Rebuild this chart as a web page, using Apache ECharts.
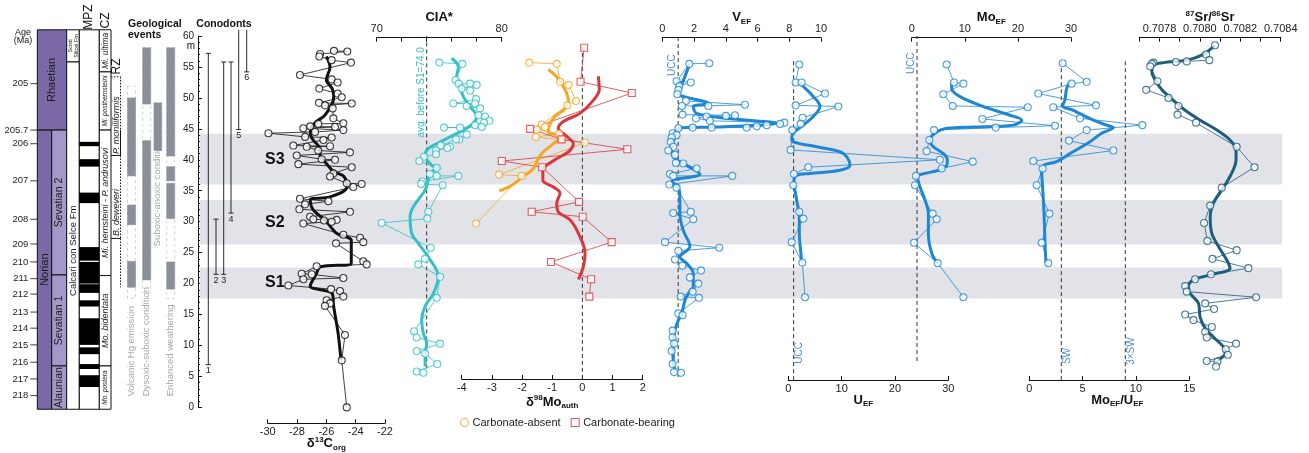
<!DOCTYPE html>
<html>
<head>
<meta charset="utf-8">
<title>Norian–Rhaetian proxy profiles</title>
<script src="https://cdn.jsdelivr.net/npm/echarts@6/dist/echarts.min.js"></script>
<style>
  html, body { margin: 0; padding: 0; background: #fff; }
  #chart { width: 1309px; height: 453px; }
</style>
</head>
<body>
<div id="chart"></div>
<script>
// ---------------- stratigraphic framework (heights in m) ----------------
const ageTicks = [[205, 52.3], [205.7, 44.8], [206, 42.6], [207, 36.6], [208, 30.4], [209, 26.4], [210, 23.5],
  [211, 20.8], [212, 18.3], [213, 15.4], [214, 12.8], [215, 10.1], [216, 7.3], [217, 4.6], [218, 1.9]];
const stages = [['Rhaetian', 61.0, 44.8], ['Norian', 44.8, -0.3]];
const substages = [['Sevatian 2', 44.8, 21.4], ['Sevatian 1', 21.4, 6.7], ['Alaunian', 6.7, -0.3]];
const formations = [['Scisti\nSilicei Fm', 61.0, 55.8], ['Calcari con Selce Fm', 55.8, -0.3]];
const polarityReversed = [[42.9, 42.2], [40.1, 38.9], [34.7, 33.0], [25.9, 23.7], [23.5, 20.0], [19.9, 18.5],
  [17.3, 16.3], [14.4, 10.1], [9.7, 8.6], [7.0, 6.2], [5.2, 3.3]];
const conodontZones = [['Mi. ultima', 61.0, 54.2], ['Mi. posthernsteini', 54.2, 44.8],
  ['Mi. hernsteini - P. andrusovi', 44.8, 21.3], ['Mo. bidentata', 21.3, 6.7], ['Mo. postera', 6.7, -0.3]];
const radiolarianZones = [['P. moniliformis', 53.4, 40.7], ['B. deweveri', 40.7, 27.3]];
const radiolarianExtension = 19.4;

const eventNames = ['Volcanic Hg emission', 'Dysoxic-suboxic condition', 'Suboxic-anoxic condition', 'Enhanced weathering'];
const eventSpans = [[51.9, 17.6], [58.1, 18.6], [49.2, 41.5], [58.1, 17.6]];
const hgEmission = [[50.0, 37.4], [32.7, 29.5], [23.6, 19.4]];
const dysoxicSuboxic = [[58.1, 49.0], [43.1, 20.6]];
const suboxicAnoxic = [[49.2, 41.5]];
const enhancedWeathering = [[58.1, 40.6], [38.9, 36.6], [36.2, 30.5], [23.5, 19.1]];

const conodontRanges = [[57.2, 6.9], [30.4, 21.5], [55.8, 21.5], [55.8, 31.4], [61.0, 44.9], [61.0, 54.2]];
const shiftNames = ['S1', 'S2', 'S3'];
const shiftIntervals = [[17.6, 22.6], [26.3, 33.5], [36.0, 44.2]];

// ---------------- geochemical profiles: [height m, value] ----------------
const d13cOrg = [[57.6,-25.48],[57.5,-24.57],[57.1,-26.43],[56.7,-26.48],[56.1,-25.64],[55.7,-24.32],[53.7,-27.8],
  [53.0,-25.64],[52.5,-25.23],[51.5,-26.48],[50.7,-25.23],[50.1,-24.95],[49.2,-26.5],[49.1,-24.27],[48.8,-26.09],
  [48.3,-25.57],[46.7,-25.52],[45.9,-24.84],[45.8,-26.55],[45.4,-27.1],[45.3,-25.41],[45.1,-27.57],[44.8,-24.84],
  [44.5,-26.77],[44.3,-29.95],[43.7,-27.45],[43.6,-25.64],[43.2,-26.2],[42.3,-28.25],[42.2,-25.75],[42.1,-27.34],
  [41.5,-26.55],[41.2,-24.39],[40.7,-28.02],[40.1,-26.32],[40.0,-25.41],[39.3,-27.91],[38.8,-24.27],[37.8,-25.52],
  [37.3,-25.75],[36.2,-24.61],[36.1,-23.59],[35.6,-24.16],[33.7,-27.8],[33.3,-25.86],[32.8,-27.45],[32.0,-27.84],
  [31.6,-24.39],[30.8,-27.11],[30.4,-26.89],[30.3,-25.3],[30.2,-26.16],[30.0,-25.64],[29.7,-27.57],[27.9,-24.84],
  [27.4,-23.7],[26.7,-23.48],[26.5,-25.34],[23.6,-23.48],[23.1,-23.25],[22.8,-26.66],[21.6,-27.68],[21.5,-27.0],
  [20.9,-24.84],[20.7,-27.57],[19.7,-28.59],[19.1,-25.68],[18.8,-25.07],[17.9,-24.84],[17.3,-25.98],[16.8,-25.75],
  [16.4,-26.09],[11.7,-24.73],[7.6,-24.95],[0.0,-24.61]];
const d13cTrend = [[7.6,-25.0],[12,-25.2],[16.3,-25.5],[18.4,-25.6],[19.6,-27.1],[21.5,-26.7],[22.7,-26.4],[23.3,-24.3],
  [27.0,-24.3],[27.6,-24.7],[28.1,-25.3],[30.3,-26.1],[31.9,-26.9],[33.5,-27.1],[34.0,-25.75],[35.6,-24.6],[37.3,-24.8],
  [38.1,-25.5],[39.4,-26.0],[40.5,-26.4],[42.1,-26.5],[43.2,-26.9],[44.3,-27.1],[45.9,-26.8],[47.2,-26.1],[49.1,-25.6],
  [50.2,-25.5],[51.5,-25.6],[52.9,-26.0],[55.0,-25.75],[56.7,-26.0]];

const cia = [[55.7,75.01],[55.5,76.85],[52.9,76.32],[52.3,76.56],[52.3,77.47],[52.1,78.0],[51.5,76.8],[51.2,77.47],
  [49.8,77.95],[49.1,76.13],[49.1,77.87],[48.7,77.2],[48.3,78.27],[47.2,78.13],[47.0,78.67],[46.3,79.01],[46.0,78.59],
  [45.6,77.87],[45.3,78.4],[45.2,75.39],[45.2,76.67],[44.1,77.2],[43.3,76.61],[43.3,76.35],[42.3,75.12],[42.1,75.87],
  [41.9,75.65],[41.5,74.75],[40.9,74.75],[40.5,73.79],[39.8,73.41],[38.7,74.8],[37.7,74.27],[37.4,74.8],[37.4,76.53],
  [36.5,73.65],[36.1,73.55],[35.9,75.28],[31.6,74.13],[30.5,74.05],[29.8,70.4],[25.8,74.32],[24.0,73.87],[23.1,73.33],
  [21.1,75.07],[17.7,74.8],[12.3,72.99],[11.3,73.2],[10.3,75.07],[9.1,73.2],[8.7,73.87],[7.0,74.85],[5.8,73.2],[5.6,73.73]];
const ciaTrend = [[56.4,76.0],[55.0,76.53],[53.4,76.4],[51.8,76.67],[50.2,76.93],[48.6,77.47],[47.0,78.0],[45.9,77.73],
  [44.8,76.93],[43.7,75.87],[42.6,74.8],[41.8,74.13],[40.8,73.87],[39.1,74.4],[38.6,75.01],[38.1,74.4],[36.7,74.13],
  [35.1,73.87],[32.4,72.93],[30.8,72.67],[28.1,72.8],[26.5,73.33],[24.3,74.13],[21.1,74.93],[18.4,74.53],[16.3,73.87],
  [14.1,73.6],[12.0,73.73],[10.3,74.0],[8.7,73.87],[6.6,73.87]];
const ciaBeforeS1 = 74.0;

const mo98Absent = [[55.7,-1.76],[55.5,-0.85],[52.6,-0.74],[52.1,-0.46],[49.5,-0.21],[48.8,-0.5],[45.7,-1.35],
  [45.3,-1.24],[44.9,-1.51],[44.2,-0.77],[43.7,-1.54],[42.8,0.09],[37.6,-2.76],[37.4,-2.01],[29.7,-3.52]];
const mo98AbsentTrend = [[54.6,-1.13],[53.4,-0.85],[51.3,-0.57],[49.4,-0.46],[48.0,-0.63],[47.0,-0.91],[45.6,-1.09],
  [44.5,-1.13],[44.0,-0.85],[43.5,-0.74],[42.6,-0.96],[41.3,-1.29],[40.2,-1.46],[38.6,-1.62],[37.3,-1.96],[35.9,-2.34],[35.0,-2.75]];
const mo98Bearing = [[58.1,0.06],[52.6,-0.06],[50.8,1.64],[45.0,-1.73],[43.3,-0.69],[41.7,1.49],[39.8,-2.67],
  [38.8,-1.33],[33.2,-0.11],[31.6,-1.68],[30.8,0.01],[26.7,0.97],[23.5,-1.04],[20.7,0.29],[17.9,0.23]];
const mo98BearingTrend = [[53.5,0.53],[51.3,0.56],[49.6,0.36],[47.5,-0.08],[46.2,-0.63],[45.1,-0.8],[44.0,-0.57],
  [42.6,-0.3],[41.3,-0.46],[40.0,-0.91],[38.3,-1.31],[36.7,-1.31],[35.6,-0.96],[34.6,-0.74],[33.0,-0.85],[31.6,-0.8],
  [30.3,-0.41],[28.1,-0.13],[24.9,0.09],[22.7,0.03],[20.7,-0.13]];

const vEF = [[55.5,1.70],[55.6,2.96],[52.7,0.90],[52.5,1.79],[51.9,1.07],[51.3,1.01],[50.6,0.95],[49.5,1.49],[48.9,5.21],
  [48.7,2.90],[48.7,1.24],[47.3,1.28],[47.2,4.58],[47.1,4.01],[47.0,2.79],[46.7,2.12],[46.3,3.0],[46.0,7.69],[45.8,7.42],
  [45.6,6.58],[45.4,5.95],[45.2,5.32],[45.2,3.11],[45.2,1.91],[45.1,1.01],[44.3,0.65],[44.0,0.9],[43.6,0.59],[42.9,0.53],
  [42.1,0.69],[41.5,0.38],[40.8,0.80],[39.5,0.86],[39.4,1.32],[38.6,2.16],[37.7,0.48],[37.4,0.69],[37.4,4.41],[36.0,0.44],
  [35.5,0.9],[31.6,1.79],[31.4,0.69],[30.4,1.95],[26.7,0.17],[25.8,3.59],[25.3,1.01],[23.9,0.80],[22.9,1.26],[22.1,2.44],
  [21.0,1.74],[20.0,2.27],[18.7,1.91],[17.9,1.16],[17.7,2.31],[15.2,1.01],[14.9,1.28],[12.4,0.65],[11.3,0.65],[10.3,0.74],
  [9.1,0.59],[7.0,0.65],[5.7,0.74],[5.6,1.18]];
const vTrend = [[55.3,1.70],[52.1,1.22],[50.8,1.01],[49.1,2.90],[48.6,1.95],[47.5,2.16],[46.7,4.05],[45.9,7.21],[45.3,3.42],
  [45.1,1.01],[43.7,0.80],[42.1,0.59],[40.5,0.69],[39.7,1.11],[39.1,1.53],[37.7,2.37],[36.5,0.59],[35.6,1.01],[33.5,1.11],
  [31.3,1.11],[28.6,1.32],[26.0,1.74],[24.3,1.11],[23.3,1.53],[21.6,1.95],[19.5,1.95],[18.4,1.64],[17.3,1.43],[15.2,1.22],
  [14.1,1.01],[12.5,0.8],[10.3,0.69],[7.6,0.69],[6.0,0.8]];

const uEF = [[55.4,2.06],[52.5,1.38],[52.5,2.5],[50.7,6.88],[48.8,1.38],[48.6,9.38],[46.8,2.69],[45.8,2.31],[44.8,0.75],
  [41.6,0.44],[40.0,28.4],[38.8,3.75],[37.7,1.06],[35.9,0.94],[31.6,2.06],[30.5,2.81],[26.7,0.63],[23.4,2.63],[17.8,3.13]];
const uTrend = [[52.3,2.19],[50.5,4.38],[48.6,5.94],[47.0,4.69],[45.6,2.81],[44.3,0.94],[43.5,0.63],[42.9,0.94],[42.1,5.31],
  [41.3,9.69],[40.5,10.94],[39.1,11.56],[38.3,9.69],[37.8,4.06],[37.5,1.56],[36.7,1.06],[33.5,1.56],[30.8,2.06],[28.1,2.06],
  [25.4,2.31],[23.5,2.5]];

const moEF = [[55.4,6.59],[52.5,7.97],[52.3,9.73],[50.6,5.96],[48.7,7.72],[48.5,21.85],[46.6,13.31],[45.5,26.99],[45.2,15.82],
  [44.8,4.21],[43.2,3.33],[41.4,2.82],[39.7,11.49],[38.6,5.65],[37.4,0.82],[35.9,0.63],[31.3,3.95],[30.4,4.71],[26.6,0.44],
  [23.3,4.9],[17.8,9.73]];
const moTrend = [[52.6,7.53],[51.5,7.53],[50.2,9.1],[48.6,13.5],[47.2,18.52],[46.4,20.72],[45.6,19.15],[45.3,11.61],
  [45.1,6.59],[44.5,4.71],[43.2,3.33],[42.1,4.08],[41.0,5.96],[40.0,6.72],[39.1,6.59],[38.3,5.02],[37.8,2.51],[37.3,1.07],
  [35.6,1.57],[33.5,2.51],[31.3,3.14],[28.1,3.14],[24.9,3.77],[23.3,4.83]];

const moU = [[55.6,3.13],[52.6,5.38],[52.3,3.97],[50.7,0.84],[48.8,6.25],[48.5,2.25],[46.7,4.75],[45.6,10.6],[44.8,5.38],
  [43.1,3.72],[41.5,7.88],[39.8,0.38],[38.6,1.25],[35.9,0.69],[31.3,1.88],[26.6,1.16],[23.3,1.78]];
const moUTrend = [[52.6,3.81],[51.5,3.5],[49.7,3.34],[48.7,3.13],[48.0,4.13],[46.4,6.0],[45.6,7.25],[45.2,7.88],[44.3,6.78],
  [42.9,5.69],[41.0,3.81],[39.7,2.56],[39.1,1.31],[38.1,1.16],[35.6,1.25],[31.3,1.38],[26.6,1.47],[23.3,1.56]];
const seawaterMoU = 3.0;
const uccEF = 1.0;

const sr = [[58.5,0.708075],[57.0,0.708031],[56.1,0.708047],[55.9,0.707935],[55.8,0.707881],[55.7,0.707770],[55.5,0.707762],
  [55.1,0.707754],[52.7,0.707790],[51.3,0.707734],[50.0,0.707845],[48.7,0.707894],[47.3,0.707889],[46.0,0.707981],
  [42.1,0.708182],[38.8,0.708270],[35.5,0.708108],[32.6,0.708051],[29.8,0.708021],[26.9,0.708037],[25.4,0.708182],
  [24.0,0.708062],[22.5,0.708240],[21.5,0.708055],[20.7,0.707976],[19.6,0.707927],[18.7,0.707935],[17.8,0.708278],
  [16.8,0.708026],[15.9,0.708070],[15.0,0.707927],[14.1,0.707968],[13.0,0.708059],[12.2,0.708026],[11.3,0.708034],
  [10.3,0.708179],[9.4,0.708128],[8.5,0.708138],[7.5,0.708034],[7.4,0.708087],[6.6,0.708080]];
const srTrend = [[58.5,0.708075],[56.9,0.708009],[56.1,0.707935],[55.7,0.707820],[55.3,0.707770],[54.2,0.707762],
  [52.9,0.707779],[51.3,0.707812],[49.6,0.707869],[48.0,0.707927],[46.4,0.708001],[44.8,0.708084],[43.2,0.708149],
  [41.6,0.708179],[40.0,0.708179],[37.3,0.708149],[35.1,0.708108],[33.0,0.708067],[30.8,0.708051],[28.1,0.708059],
  [26.0,0.708092],[23.8,0.708133],[22.5,0.708149],[21.4,0.708051],[20.6,0.707968],[19.5,0.707943],[18.4,0.707952],
  [16.8,0.707993],[14.6,0.708001],[12.8,0.708026],[11.1,0.708075],[9.8,0.708116],[8.7,0.708125],[7.6,0.708092],[6.8,0.708075]];

// ---------------- layout & style ----------------
const FONT = '"Liberation Sans", Arial, Helvetica, sans-serif';
const TOP = 36, H = 371.4;               // every panel: 60 m at TOP, 0 m at TOP + H
const C = {
  ink: '#111', teal: '#35bfc6', orange: '#f6a623', red: '#d8383c', blue: '#1e86d2', sr: '#1f5d7d',
  band: '#e1e3e8', stageDark: '#7a69a6', stageLight: '#a398c9', event: '#8b8f99', eventLine: '#d0d3d8',
  eventText: '#a3a7ae', refText: '#4d8fcd'
};
const COL = {   // x positions inside the 0–200 px column grid
  stage: [37.3, 51.7], sub: [51.7, 66.7], fm: [66.7, 79.3], mpz: [79.3, 99.3], cz: [99.3, 111], rz: [111, 120.5],
  events: [[127.5, 135.5], [142.7, 150.7], [154, 161.7], [166.7, 174.7]],
  ageTick: 7
};
const CONO_X = [10.3, 18, 25.7, 33, 40.7, 48.7];  // offsets from the height axis
const EVENT_LABEL_M = [1.8, 1.8, 26.0, 1.8];
const LABEL_AT = { 'Calcari con Selce Fm': 25.3, 'P. moniliformis': 45.6, 'B. deweveri': 31.5 };
const ZONE_FONT = { 'Mi. posthernsteini': 6.5, 'Mo. postera': 6.5, 'Scisti\nSilicei Fm': 5.5, 'Mi. ultima': 8.5 };

const PANELS = {
  d13c: { x0: 267.7, x1: 385, min: -30, max: -22, interval: 2, pos: 'bottom', offset: 15.9, gap: 12,
          name: '{b|δ}{sup|13}{b|C}{sub|org}' },
  cia:  { x0: 376.7, x1: 501.7, min: 70, max: 80, interval: 2, pos: 'top', offset: -1.7, gap: 12,
          name: '{b|CIA*}', fmt: v => (Math.round(v) % 10 === 0 ? String(Math.round(v)) : '') },
  mo98: { x0: 461.7, x1: 642.7, min: -4, max: 2, interval: 1, pos: 'bottom', offset: -28.4, gap: 15,
          name: '{b|δ}{sup|98}{b|Mo}{sub|auth}' },
  v:    { x0: 662.3, x1: 821, min: 0, max: 10, interval: 2, pos: 'top', offset: -1.7, gap: 12, name: '{b|V}{sub|EF}' },
  u:    { x0: 788.3, x1: 948.3, min: 0, max: 30, interval: 10, pos: 'bottom', offset: -27.4, gap: 12,
          name: '{b|U}{sub|EF}', namePad: [0, 10, 0, 0] },
  mo:   { x0: 911.7, x1: 1071, min: 0, max: 30, interval: 10, pos: 'top', offset: -1.7, gap: 12, name: '{b|Mo}{sub|EF}' },
  mou:  { x0: 1029.3, x1: 1189.3, min: 0, max: 15, interval: 5, pos: 'bottom', offset: -27.4, gap: 12,
          name: '{b|Mo}{sub|EF}{b|/U}{sub|EF}', namePad: [0, 0, 0, 16] },
  sr:   { x0: 1139.3, x1: 1280.7, min: 0.7077, max: 0.7084, interval: 0.0001, pos: 'top', offset: -1.7, gap: 12,
          name: '{sup|87}{b|Sr/}{sup|86}{b|Sr}',
          fmt: v => { const k = Math.round(v * 1e4); return k % 2 === 0 ? (k / 1e4).toFixed(4) : ''; } }
};

const RICH = {
  b:   { fontFamily: FONT, fontSize: 13, fontWeight: 'bold', color: C.ink, lineHeight: 16 },
  sup: { fontFamily: FONT, fontSize: 8, fontWeight: 'bold', color: C.ink, lineHeight: 9, verticalAlign: 'top' },
  sub: { fontFamily: FONT, fontSize: 8, fontWeight: 'bold', color: C.ink, lineHeight: 9, verticalAlign: 'bottom' }
};

// ---------------- option assembly ----------------
const grids = [], xAxis = [], yAxis = [], series = [];
function addGrid(left, width, xa, ya) {
  const i = grids.length;
  grids.push({ left, top: TOP, width, height: H, outerBoundsMode: 'none', containLabel: false });
  xAxis.push(Object.assign({ gridIndex: i, type: 'value' }, xa));
  yAxis.push(Object.assign({ gridIndex: i, type: 'value', min: 0, max: 60, show: false }, ya || {}));
  return i;
}
const hiddenX = (min, max) => ({ min, max, show: false });
const yOf = (api, m) => api.coord([0, m])[1];
const xOf = (api, x) => api.coord([x, 0])[0];
const line = (x1, y1, x2, y2, style) => ({ type: 'line', shape: { x1, y1, x2, y2 }, style: Object.assign({ stroke: C.ink, lineWidth: 1 }, style) });
const rect = (x0, y0, x1, y1, style) => ({ type: 'rect', shape: { x: x0, y: y0, width: x1 - x0, height: y1 - y0 }, style });
function vtext(x, y, text, st) {
  return { type: 'text', x, y, rotation: Math.PI / 2,
    style: Object.assign({ text, fill: '#1a1a1a', fontFamily: FONT, fontSize: 11, align: 'center', verticalAlign: 'middle' }, st) };
}
function custom(gi, data, renderItem, z) {
  series.push({ type: 'custom', xAxisIndex: gi, yAxisIndex: gi, silent: true, z: z || 3, clip: false, data, renderItem });
}

// grids for the stratigraphic column, the height axis with conodont ranges, and the shaded intervals
const gCol = addGrid(0, 200, hiddenX(0, 200));
const gCono = addGrid(198, 84, hiddenX(0, 84), {
  show: true, interval: 5, position: 'left',
  axisLine: { show: true, onZero: false, lineStyle: { color: C.ink, width: 1 } },
  axisTick: { show: true, inside: true, length: 4, lineStyle: { color: C.ink } },
  minorTick: { show: true, splitNumber: 5, length: 2, lineStyle: { color: C.ink } },
  axisLabel: { fontFamily: FONT, fontSize: 10, color: '#222', margin: 4 },
  splitLine: { show: false }
});
const gBand = addGrid(200, 1082, hiddenX(0, 1082));

// shaded isotope-shift intervals S1–S3
custom(gBand, shiftIntervals, (p, api) => {
  const [b, t] = shiftIntervals[p.dataIndex];
  const y0 = yOf(api, t), y1 = yOf(api, b);
  return { type: 'group', children: [
    rect(xOf(api, 0), y0, xOf(api, 1082), y1, { fill: C.band }),
    { type: 'text', x: xOf(api, 65), y: (y0 + y1) / 2,
      style: { text: shiftNames[p.dataIndex], fill: C.ink, fontFamily: FONT, fontSize: 16, fontWeight: 'bold', align: 'left', verticalAlign: 'middle' } }
  ] };
}, 1);

// age scale
custom(gCol, ageTicks, (p, api) => {
  const [age, m] = ageTicks[p.dataIndex];
  const y = yOf(api, m), x = COL.stage[0];
  return { type: 'group', children: [
    line(x - COL.ageTick, y, x, y, { lineWidth: 0.8 }),
    { type: 'text', x: x - COL.ageTick - 2, y, style: { text: String(age), fill: '#222', fontFamily: FONT, fontSize: 9.5, align: 'right', verticalAlign: 'middle' } }
  ] };
});
// stages and substages
custom(gCol, stages, (p, api) => {
  const [name, top, base] = stages[p.dataIndex];
  const hasSub = substages.some(s => s[1] <= top && s[2] >= base);
  const x0 = COL.stage[0], x1 = hasSub ? COL.stage[1] : COL.sub[1];
  const y0 = yOf(api, top), y1 = yOf(api, base);
  return { type: 'group', children: [
    rect(x0, y0, x1, y1, { fill: C.stageDark, stroke: C.ink, lineWidth: 1 }),
    vtext((x0 + x1) / 2, (y0 + y1) / 2, name, { fontSize: 11 })
  ] };
});
custom(gCol, substages, (p, api) => {
  const [name, top, base] = substages[p.dataIndex];
  const x0 = COL.sub[0], x1 = COL.sub[1];
  const y0 = yOf(api, top), y1 = yOf(api, base);
  return { type: 'group', children: [
    rect(x0, y0, x1, y1, { fill: C.stageLight, stroke: C.ink, lineWidth: 1 }),
    vtext((x0 + x1) / 2, (y0 + y1) / 2, name, { fontSize: 10.5 })
  ] };
});
// formations
custom(gCol, formations, (p, api) => {
  const [name, top, base] = formations[p.dataIndex];
  const x0 = COL.fm[0], x1 = COL.fm[1];
  const y0 = yOf(api, top), y1 = yOf(api, base);
  const yl = LABEL_AT[name] !== undefined ? yOf(api, LABEL_AT[name]) : (y0 + y1) / 2;
  return { type: 'group', children: [
    rect(x0, y0, x1, y1, { fill: '#fff', stroke: C.ink, lineWidth: 1 }),
    vtext((x0 + x1) / 2, yl, name, { fontSize: ZONE_FONT[name] || 9.5, lineHeight: 6 })
  ] };
});
// magnetic polarity zones
custom(gCol, [[stages[0][1], stages[stages.length - 1][2]]], (p, api) => {
  const y0 = yOf(api, stages[0][1]), y1 = yOf(api, stages[stages.length - 1][2]);
  return rect(COL.mpz[0], y0, COL.mpz[1], y1, { fill: '#fff', stroke: C.ink, lineWidth: 1 });
});
custom(gCol, polarityReversed, (p, api) => {
  const [top, base] = polarityReversed[p.dataIndex];
  return rect(COL.mpz[0], yOf(api, top), COL.mpz[1], yOf(api, base), { fill: '#000' });
}, 4);
// conodont zones
custom(gCol, conodontZones, (p, api) => {
  const [name, top, base] = conodontZones[p.dataIndex];
  const x0 = COL.cz[0], x1 = COL.cz[1];
  const y0 = yOf(api, top), y1 = yOf(api, base);
  return { type: 'group', children: [
    rect(x0, y0, x1, y1, { fill: '#fff', stroke: C.ink, lineWidth: 1 }),
    vtext((x0 + x1) / 2, (y0 + y1) / 2, name, { fontSize: ZONE_FONT[name] || 9, fontStyle: 'italic' })
  ] };
});
// radiolarian zones
custom(gCol, radiolarianZones, (p, api) => {
  const [name, top, base] = radiolarianZones[p.dataIndex];
  const x0 = COL.rz[0], x1 = COL.rz[1];
  const y0 = yOf(api, top), y1 = yOf(api, base);
  const dot = { lineDash: [1.5, 1.5] };
  const kids = [];
  if (p.dataIndex === 0) {
    const yb = yOf(api, stages[0][2]);
    kids.push(line(x0, y0, x1, y0, dot), line(x1, y0, x1, yb, dot), line(x1, yb, x1, y1));
  } else {
    kids.push(line(x1, y0, x1, y1, dot), line(x1, y1, x1, yOf(api, radiolarianExtension), dot));
  }
  kids.push(line(x0, y1, x1, y1));
  const yl = LABEL_AT[name] !== undefined ? yOf(api, LABEL_AT[name]) : (y0 + y1) / 2;
  kids.push(vtext((x0 + x1) / 2 + 0.5, yl, name, { fontSize: 9, fontStyle: 'italic' }));
  return { type: 'group', children: kids };
});
// geological events: dashed envelopes and captions, then the solid intervals on top
custom(gCol, eventSpans, (p, api) => {
  const i = p.dataIndex, [top, base] = eventSpans[i];
  const [x0, x1] = COL.events[i];
  const y0 = yOf(api, top), y1 = yOf(api, base);
  return { type: 'group', children: [
    rect(x0, y0, x1, y1, { fill: 'none', stroke: C.eventLine, lineWidth: 1, lineDash: [3, 3] }),
    { type: 'text', x: (x0 + x1) / 2, y: yOf(api, EVENT_LABEL_M[i]), rotation: Math.PI / 2,
      style: { text: eventNames[i], fill: C.eventText, fontFamily: FONT, fontSize: 9.5, align: 'left', verticalAlign: 'middle' } }
  ] };
}, 2);
[hgEmission, dysoxicSuboxic, suboxicAnoxic, enhancedWeathering].forEach((bars, i) => {
  custom(gCol, bars, (p, api) => {
    const [top, base] = bars[p.dataIndex];
    const [x0, x1] = COL.events[i];
    return rect(x0, yOf(api, top), x1, yOf(api, base), { fill: C.event, stroke: C.event, lineWidth: 0.5 });
  }, 5);
});
// conodont ranges
custom(gCono, conodontRanges, (p, api) => {
  const [top, base] = conodontRanges[p.dataIndex];
  const x = xOf(api, CONO_X[p.dataIndex]);
  const y0 = yOf(api, top), y1 = yOf(api, base);
  const kids = [line(x, y0, x, y1, { lineWidth: 0.9 }), line(x - 2.5, y1, x + 2.5, y1, { lineWidth: 0.9 })];
  if (top <= 60) kids.push(line(x - 2.5, y0, x + 2.5, y0, { lineWidth: 0.9 }));
  kids.push({ type: 'text', x, y: y1 + 6, style: { text: String(p.dataIndex + 1), fill: '#222', fontFamily: FONT, fontSize: 9, align: 'center', verticalAlign: 'middle' } });
  return { type: 'group', children: kids };
}, 5);

// proxy panels
const panelGrid = {};
Object.keys(PANELS).forEach(k => {
  const p = PANELS[k];
  panelGrid[k] = addGrid(p.x0, p.x1 - p.x0, {
    min: p.min, max: p.max, interval: p.interval, position: p.pos, offset: p.offset,
    axisLine: { show: true, onZero: false, lineStyle: { color: C.ink, width: 1 } },
    axisTick: { show: true, inside: true, length: 4, lineStyle: { color: C.ink } },
    splitLine: { show: false },
    axisLabel: { fontFamily: FONT, fontSize: 11, color: '#222', margin: 3, formatter: p.fmt, showMinLabel: true, showMaxLabel: true },
    name: p.name, nameLocation: 'middle', nameGap: p.gap, nameMoveOverlap: false,
    nameTextStyle: { rich: RICH, padding: p.namePad || 0 }
  }, { axisLine: { onZero: false } });
});

const byHeight = arr => arr.slice().sort((a, b) => b[0] - a[0]);
const toXY = arr => arr.map(([m, v]) => [v, m]);
function addProfile(key, name, pts, trend, color, symbol) {
  const gi = panelGrid[key];
  const ordered = toXY(byHeight(pts));
  series.push({ type: 'line', name: name + ' path', xAxisIndex: gi, yAxisIndex: gi, data: ordered, symbol: 'none',
    lineStyle: { color, width: 0.8 }, z: 4, silent: true });
  if (trend) series.push({ type: 'line', name: name + ' trend', xAxisIndex: gi, yAxisIndex: gi, data: toXY(trend),
    symbol: 'none', smooth: 0.35, lineStyle: { color, width: 3 }, z: 5, silent: true });
  series.push({ type: 'scatter', name, xAxisIndex: gi, yAxisIndex: gi, data: ordered, symbol: symbol || 'circle',
    symbolSize: 7, itemStyle: { color: '#fff', borderColor: color, borderWidth: 1.1 }, z: 6, silent: true });
}
addProfile('d13c', 'δ13Corg', d13cOrg, d13cTrend, C.ink);
addProfile('cia', 'CIA*', cia, ciaTrend, C.teal);
addProfile('mo98', 'Carbonate-absent', mo98Absent, mo98AbsentTrend, C.orange, 'circle');
addProfile('mo98', 'Carbonate-bearing', mo98Bearing, mo98BearingTrend, C.red, 'rect');
addProfile('v', 'VEF', vEF, vTrend, C.blue);
addProfile('u', 'UEF', uEF, uTrend, C.blue);
addProfile('mo', 'MoEF', moEF, moTrend, C.blue);
addProfile('mou', 'MoEF/UEF', moU, moUTrend, C.blue);
addProfile('sr', '87Sr/86Sr', sr, srTrend, C.sr);

// dashed reference lines with their captions
const refLines = [
  { panel: 'cia', value: ciaBeforeS1, from: 6.3, to: 60, text: 'avg. before S1=' + ciaBeforeS1.toFixed(1), at: 50.9, side: -5, color: C.teal },
  { panel: 'mo98', value: 0, from: 4.6, to: 58.5 },
  { panel: 'v', value: uccEF, from: 4.9, to: 60, text: 'UCC', at: 55.3, side: -5.5, color: C.refText },
  { panel: 'u', value: uccEF, from: 4.4, to: 56.4, text: 'UCC', at: 8.8, side: 6, color: C.refText },
  { panel: 'mo', value: uccEF, from: 7.5, to: 60, text: 'UCC', at: 55.6, side: -5.5, color: C.refText },
  { panel: 'mou', value: seawaterMoU, from: 4.4, to: 56.4, text: 'SW', at: 8.3, side: 6, color: C.refText },
  { panel: 'mou', value: 3 * seawaterMoU, from: 4.4, to: 56.4, text: '3×SW', at: 9.1, side: 6, color: C.refText }
];
refLines.forEach(r => {
  custom(panelGrid[r.panel], [[r.value, r.from, r.to]], (p, api) => {
    const a = api.coord([r.value, r.from]), b = api.coord([r.value, r.to]);
    const kids = [line(a[0], a[1], b[0], b[1], { stroke: '#333', lineWidth: 1, lineDash: [4, 3] })];
    if (r.text) kids.push({ type: 'text', x: a[0] + r.side, y: api.coord([r.value, r.at])[1], rotation: Math.PI / 2,
      style: { text: r.text, fill: r.color, fontFamily: FONT, fontSize: 10, align: 'center', verticalAlign: 'middle' } });
    return { type: 'group', children: kids };
  }, 3);
});

const titleText = (x, y, text, st) => ({ type: 'text', x, y,
  style: Object.assign({ text, fill: C.ink, fontFamily: FONT, fontSize: 10.5, fontWeight: 'bold', align: 'left', verticalAlign: 'middle' }, st) });

const option = {
  animation: false,
  grid: grids, xAxis, yAxis, series,
  legend: {
    data: [
      { name: 'Carbonate-absent', icon: 'circle', itemStyle: { color: '#fff', borderColor: C.orange, borderWidth: 1.1 } },
      { name: 'Carbonate-bearing', icon: 'rect', itemStyle: { color: '#fff', borderColor: C.red, borderWidth: 1.1 } }
    ],
    left: 455, top: 412, itemWidth: 8, itemHeight: 8, itemGap: 10, selectedMode: false,
    textStyle: { fontFamily: FONT, fontSize: 11, color: '#222', padding: [0, 0, 0, -1] }
  },
  graphic: [
    titleText(23, 33, 'Age', { fontSize: 9, fontWeight: 'normal', align: 'center' }),
    titleText(23, 41, '(Ma)', { fontSize: 9, fontWeight: 'normal', align: 'center' }),
    Object.assign(titleText(89, 17, 'MPZ', { fontSize: 12, fontWeight: 'normal', align: 'center' }), { rotation: Math.PI / 2 }),
    Object.assign(titleText(106, 20.5, 'CZ', { fontSize: 12, fontWeight: 'normal', align: 'center' }), { rotation: Math.PI / 2 }),
    Object.assign(titleText(116.5, 66.5, 'RZ', { fontSize: 12, fontWeight: 'normal', align: 'center' }), { rotation: Math.PI / 2 }),
    titleText(128, 24, 'Geological'),
    titleText(128, 35.5, 'events'),
    titleText(224, 24, 'Conodonts', { align: 'center' }),
    titleText(191, 46, 'm', { fontSize: 10, fontWeight: 'normal', align: 'center' })
  ]
};

const chart = echarts.init(document.getElementById('chart'), null, { renderer: 'canvas' });
chart.setOption(option);
</script>
</body>
</html>
